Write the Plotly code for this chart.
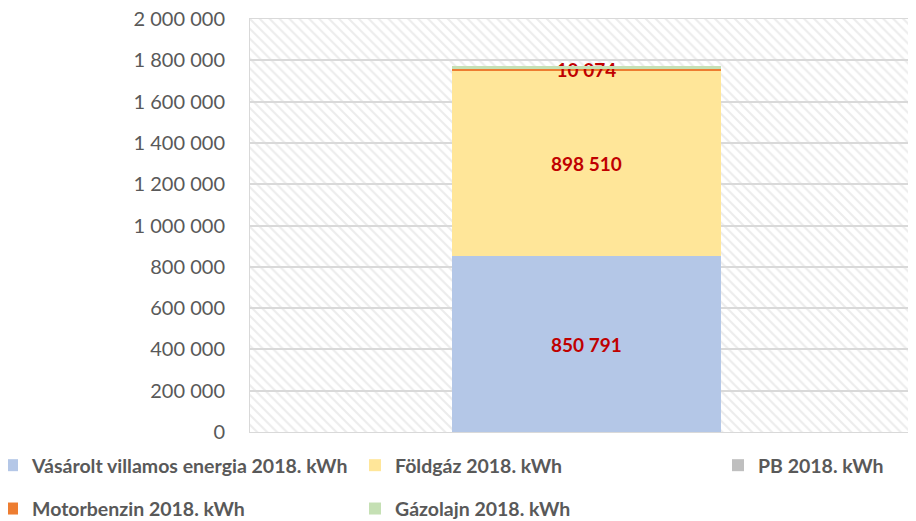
import plotly.graph_objects as go

categories = ["2018"]
series_names = ["Vásárolt villamos energia 2018. kWh", "Földgáz 2018. kWh", "PB 2018. kWh",
                "Motorbenzin 2018. kWh", "Gázolajn 2018. kWh"]
values = [850791, 898510, 0, 10074, 12600]
labels = ["850 791", "898 510", "0", "10 074", ""]
colors = ["#B4C7E7", "#FFE699", "#BFBFBF", "#ED7D31", "#C5E0B4"]
legend_ids = ["legend", "legend2", "legend3", "legend", "legend2"]

fig = go.Figure()

# hatched plot-area background (on base axis, drawn beneath the data)
fig.add_trace(go.Bar(x=[0.5], y=[2000000], width=[1], xaxis="x", showlegend=False,
                     hoverinfo="skip",
                     marker=dict(color="rgba(0,0,0,0)", line=dict(width=0),
                                 pattern=dict(shape="\\", fgcolor="#d9d9d9", bgcolor="rgba(0,0,0,0)",
                                              size=7, solidity=0.3))))

for i, (n, v, t, c) in enumerate(zip(series_names, values, labels, colors)):
    fig.add_trace(go.Bar(x=categories, y=[v], name=n, xaxis="x2",
                         marker=dict(color=c, line=dict(width=0)),
                         text=[t], textposition="inside", insidetextanchor="middle", textangle=0,
                         textfont=dict(color="#C00000", size=19, family="Lato", weight="bold"),
                         width=0.404, legend=legend_ids[i], legendgroup=n))

# plot area in figure px: left 242, width 666, top 11, height 413
PL, PW, PT, PH = 242, 666, 11, 413
def px_x(v):
    return (v - PL) / PW

legend_font = dict(size=19.5, color="#595959", family="Lato", weight="bold")
common = dict(xref="paper", yref="paper", xanchor="left", y=(PT + PH - 438) / PH,
              yanchor="top", orientation="v", tracegroupgap=15, traceorder="grouped",
              font=legend_font, bgcolor="rgba(0,0,0,0)")
fig.update_layout(
    barmode="stack",
    width=916, height=521,
    margin=dict(l=PL, r=916 - PL - PW, t=PT, b=521 - PT - PH, autoexpand=False),
    paper_bgcolor="white", plot_bgcolor="white",
    separators=", ",
    font=dict(family="Lato", color="#595959"),
    uniformtext=dict(minsize=19, mode="show"),
    xaxis=dict(showticklabels=False, range=[0, 1], showline=True, linecolor="#d9d9d9",
               mirror=True, showgrid=False, ticks="", zeroline=False),
    xaxis2=dict(overlaying="x", range=[-0.505, 0.495], visible=False),
    yaxis=dict(range=[0, 2000400], dtick=200000, tickformat=",d", showgrid=True,
               gridcolor="#d9d9d9", gridwidth=1.5, zeroline=False, showline=True,
               linecolor="#d9d9d9", mirror=True, ticks="", ticklabelstandoff=20,
               ticklabeloverflow="allow",
               tickfont=dict(size=20, color="#595959", family="Lato")),
    legend=dict(x=px_x(-16), **common),
    legend2=dict(x=px_x(347), **common),
    legend3=dict(x=px_x(710), **common),
)

fig.write_html("out.html")
